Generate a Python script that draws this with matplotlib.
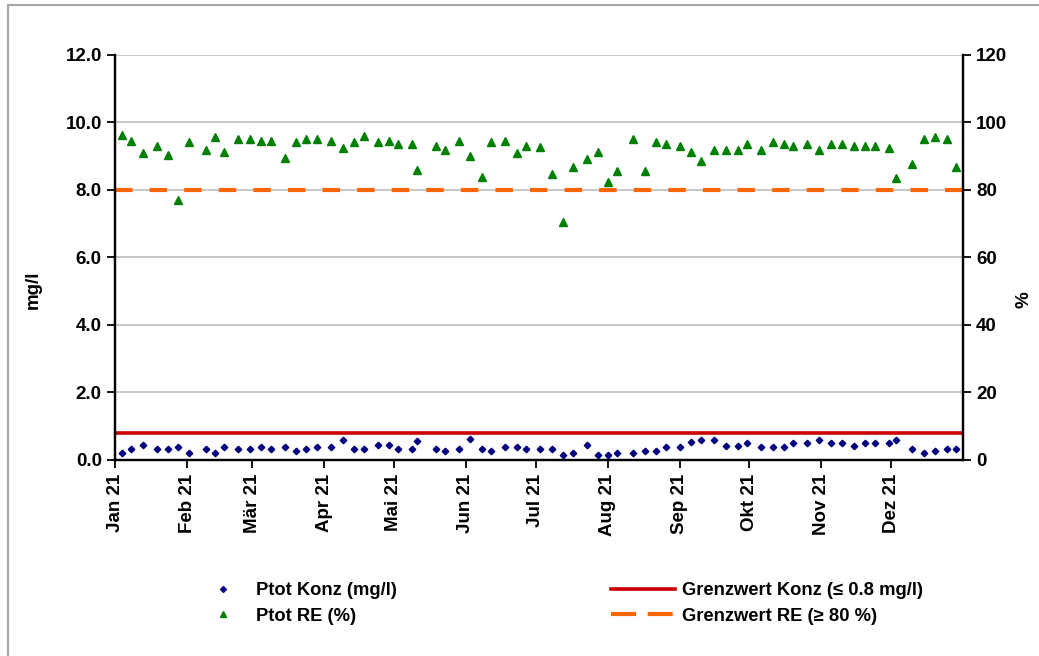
"""
Ptot Ablauf 2021: Konzentration und Reinigungsleistung
"""
import matplotlib
matplotlib.use('Agg')
import matplotlib.pyplot as plt
from matplotlib.lines import Line2D
from matplotlib.patches import Rectangle
import numpy as np

plt.rcParams['font.family'] = ['Liberation Sans', 'DejaVu Sans']
plt.rcParams['font.weight'] = 'bold'

sample_dates = [
    '2021-01-04', '2021-01-08', '2021-01-13', '2021-01-19', '2021-01-24',
    '2021-01-28', '2021-02-02', '2021-02-09', '2021-02-13', '2021-02-17',
    '2021-02-23', '2021-02-28', '2021-03-05', '2021-03-09', '2021-03-15',
    '2021-03-20', '2021-03-24', '2021-03-29', '2021-04-04', '2021-04-09',
    '2021-04-14', '2021-04-18', '2021-04-24', '2021-04-29', '2021-05-03',
    '2021-05-09', '2021-05-11', '2021-05-19', '2021-05-23', '2021-05-29',
    '2021-06-03', '2021-06-08', '2021-06-12', '2021-06-18', '2021-06-23',
    '2021-06-27', '2021-07-03', '2021-07-08', '2021-07-13', '2021-07-17',
    '2021-07-23', '2021-07-28', '2021-08-01', '2021-08-05', '2021-08-12',
    '2021-08-17', '2021-08-22', '2021-08-26', '2021-09-01', '2021-09-06',
    '2021-09-10', '2021-09-16', '2021-09-21', '2021-09-26', '2021-09-30',
    '2021-10-06', '2021-10-11', '2021-10-16', '2021-10-20', '2021-10-26',
    '2021-10-31', '2021-11-05', '2021-11-10', '2021-11-15', '2021-11-20',
    '2021-11-24', '2021-11-30', '2021-12-03', '2021-12-10', '2021-12-15',
    '2021-12-20', '2021-12-25', '2021-12-29',
]

# Ptot Konzentration im Ablauf (mg/l)
konz = [
    0.20, 0.33, 0.44, 0.33, 0.33, 0.38, 0.20, 0.33, 0.20, 0.38,
    0.33, 0.33, 0.38, 0.33, 0.38, 0.27, 0.33, 0.38, 0.38, 0.59,
    0.33, 0.33, 0.44, 0.44, 0.33, 0.33, 0.56, 0.33, 0.27, 0.33,
    0.61, 0.33, 0.27, 0.38, 0.38, 0.33, 0.33, 0.33, 0.15, 0.22,
    0.44, 0.15, 0.15, 0.22, 0.22, 0.28, 0.28, 0.38, 0.38, 0.54,
    0.59, 0.59, 0.42, 0.42, 0.49, 0.37, 0.37, 0.37, 0.49, 0.49,
    0.59, 0.49, 0.49, 0.42, 0.49, 0.49, 0.49, 0.59, 0.33, 0.22,
    0.28, 0.33, 0.33,
]

# Ptot Reinigungsleistung (%)
re_pct = [
    96.3, 94.5, 90.9, 93.0, 90.4, 77.0, 94.1, 91.9, 95.8, 91.4,
    95.0, 95.0, 94.5, 94.5, 89.6, 94.1, 95.1, 95.1, 94.5, 92.3,
    94.1, 96.0, 94.1, 94.5, 93.6, 93.6, 85.9, 93.0, 91.9, 94.6,
    90.1, 83.9, 94.1, 94.6, 90.9, 93.0, 92.8, 84.7, 70.4, 86.7,
    89.1, 91.4, 82.5, 85.7, 95.0, 85.7, 94.1, 93.6, 93.1, 91.4,
    88.6, 91.9, 91.9, 91.9, 93.6, 91.9, 94.1, 93.6, 93.1, 93.6,
    91.9, 93.6, 93.6, 93.1, 93.1, 93.1, 92.3, 83.6, 87.6, 95.0,
    95.8, 95.0, 86.7,
]

grenz_konz = 0.8
grenz_re = 80
month_labels = ['Jan 21', 'Feb 21', 'Mär 21', 'Apr 21', 'Mai 21', 'Jun 21',
                'Jul 21', 'Aug 21', 'Sep 21', 'Okt 21', 'Nov 21', 'Dez 21']

dates = np.array(sample_dates, dtype='datetime64[D]')
x_start = np.datetime64('2021-01-01')
x_end = np.datetime64('2022-01-01')
months = np.arange('2021-01', '2022-01', dtype='datetime64[M]').astype('datetime64[D]')

fig = plt.figure(figsize=(10.39, 6.56), dpi=100)
fig.add_artist(Rectangle((8 / 1039, -0.1), 1.2, 1.1 - 5 / 656,
                         transform=fig.transFigure, fill=False,
                         edgecolor='#a6a6a6', lw=1.5))

ax = fig.add_axes([0.1107, 0.2988, 0.8162, 0.6174])
ax2 = ax.twinx()

red_col = '#cc0000'
orange_col = '#ff6600'

ax.plot(dates, konz, ls='none', marker='D', ms=3.3, color='#000080', zorder=3)
ax.plot([x_start, x_end], [grenz_konz, grenz_konz], color=red_col, lw=2.6, zorder=2)
ax2.plot(dates, re_pct, ls='none', marker='^', ms=6, color='#008000', zorder=3)
ax2.plot([x_start, x_end], [grenz_re, grenz_re], color=orange_col, lw=3,
         dashes=(4.2, 4.1), zorder=2)

ax.set_xlim(x_start, x_end)
ax.set_ylim(0, 12)
ax2.set_ylim(0, 120)
ax.set_yticks(np.arange(0, 12.1, 2))
ax.set_yticklabels([f'{v:.1f}' for v in np.arange(0, 12.1, 2)])
ax2.set_yticks(np.arange(0, 121, 20))

ax.set_xticks(months)
ax.set_xticklabels(month_labels, rotation=90, va='top', ha='center')

ax.yaxis.grid(True, color='#c4c4c4', lw=1.3)
ax.set_axisbelow(True)

for a in (ax, ax2):
    a.spines['top'].set_visible(False)
    for s in ('left', 'right', 'bottom'):
        a.spines[s].set_linewidth(1.6)
        a.spines[s].set_color('black')
    a.tick_params(labelsize=13.5, width=1.3, length=6, direction='out')
ax.tick_params(axis='x', pad=4)

ax.set_ylabel('mg/l', fontsize=13.5, fontweight='bold')
ax.yaxis.set_label_coords(-0.086, 0.42)
ax2.set_ylabel('%', fontsize=13.5, fontweight='bold', rotation=90)
ax2.yaxis.set_label_coords(1.062, 0.395)

# Legende: zwei Spalten
h1 = [Line2D([], [], ls='none', marker='D', ms=3.0, color='#000080'),
      Line2D([], [], ls='none', marker='^', ms=4.5, color='#008000')]
leg1 = fig.legend(h1, ['Ptot Konz (mg/l)', 'Ptot RE (%)'],
                  loc='center left', bbox_to_anchor=(213.8 / 1039, 0.080),
                  frameon=False, fontsize=13.2, handlelength=1.0,
                  handletextpad=1.3, labelspacing=0.45, borderpad=0,
                  borderaxespad=0)
h2 = [Line2D([], [], color=red_col, lw=2.6),
      Line2D([], [], color=orange_col, lw=3, dashes=(6, 2.8))]
leg2 = fig.legend(h2, ['Grenzwert Konz (≤ 0.8 mg/l)', 'Grenzwert RE (≥ 80 %)'],
                  loc='center left', bbox_to_anchor=(611 / 1039, 0.080),
                  frameon=False, fontsize=13.2, handlelength=3.5,
                  handletextpad=0.4, labelspacing=0.45, borderpad=0,
                  borderaxespad=0)

fig.savefig('out.png', dpi=100)
